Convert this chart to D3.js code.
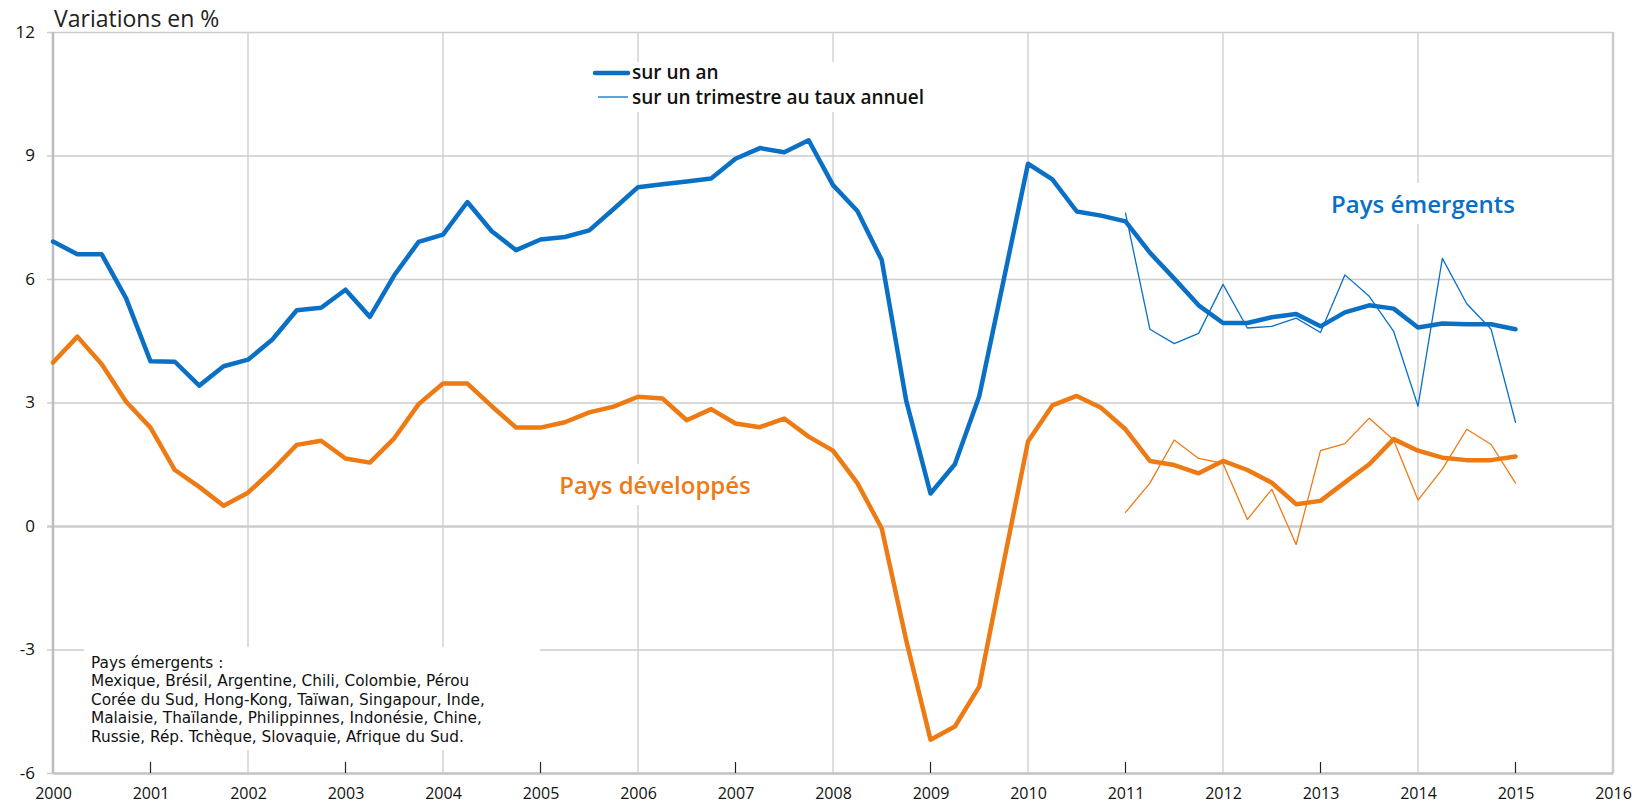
<!DOCTYPE html>
<html>
<head>
<meta charset="utf-8">
<script src="https://cdn.jsdelivr.net/npm/d3@7"></script>
<style>
  body { margin: 0; background: #fff; }
  text { font-family: "Open Sans", Lato, sans-serif; }
</style>
</head>
<body>
<div id="chart"></div>
<script>
// quarters 2000T1 .. 2015T1
var quarters = d3.range(0, 61).map(function(i) { return 2000 + i / 4; });

// Pays émergents, glissement sur un an
var emergAn = [
  6.91, 6.60, 6.60, 5.53,
  4.00, 3.99, 3.41, 3.88,
  4.04, 4.53, 5.24, 5.30,
  5.74, 5.08, 6.09, 6.90,
  7.08, 7.87, 7.16, 6.70,
  6.96, 7.02, 7.18, 7.70,
  8.23, 8.30, 8.37, 8.44,
  8.92, 9.18, 9.08, 9.37,
  8.28, 7.65, 6.46, 3.05,
  0.79, 1.50, 3.15, 5.97,
  8.80, 8.42, 7.64, 7.54,
  7.40, 6.64, 6.01, 5.36,
  4.93, 4.93, 5.07, 5.15,
  4.85, 5.19, 5.36, 5.28,
  4.82, 4.92, 4.90, 4.90,
  4.78
];

// Pays développés, glissement sur un an
var devAn = [
  3.97, 4.60, 3.93, 3.02,
  2.39, 1.36, 0.95, 0.49,
  0.81, 1.36, 1.97, 2.07,
  1.64, 1.54, 2.13, 2.96,
  3.46, 3.46, 2.91, 2.39,
  2.39, 2.52, 2.76, 2.90,
  3.14, 3.10, 2.57, 2.84,
  2.49, 2.40, 2.61, 2.17,
  1.83, 1.04, -0.06, -2.77,
  -5.19, -4.87, -3.90, -0.90,
  2.05, 2.93, 3.16, 2.87,
  2.35, 1.58, 1.48, 1.28,
  1.58, 1.36, 1.05, 0.53,
  0.61, 1.06, 1.50, 2.11,
  1.83, 1.66, 1.60, 1.60,
  1.69
];

// sur un trimestre au taux annuel, 2011T1 .. 2015T1
var quartersTri = d3.range(44, 61).map(function(i) { return 2000 + i / 4; });
var emergTri = [7.60, 4.78, 4.43, 4.68, 5.87, 4.81, 4.85, 5.05, 4.70, 6.10, 5.58, 4.73, 2.91, 6.50, 5.40, 4.78, 2.52];
var devTri = [0.33, 1.04, 2.09, 1.64, 1.52, 0.16, 0.89, -0.45, 1.83, 2.00, 2.62, 2.09, 0.63, 1.38, 2.35, 1.98, 1.04];

var yearTicks = d3.range(2000, 2017);
var yTicks = [-6, -3, 0, 3, 6, 9, 12];

var blue = "#0a70c6", orange = "#ee7a14", gridColor = "#cccccc";

var width = 1640, height = 807;
var margin = {top: 32, right: 27, bottom: 34, left: 53};

var svg = d3.select("#chart").append("svg")
  .attr("width", width)
  .attr("height", height);

var x = d3.scaleLinear().domain([2000, 2016]).range([margin.left, width - margin.right]);
var y = d3.scaleLinear().domain([-6, 12]).range([height - margin.bottom, margin.top]);
var plotW = x.range()[1] - x.range()[0];

// horizontal grid + y labels
svg.append("g")
  .attr("transform", `translate(${margin.left},0)`)
  .call(d3.axisLeft(y).tickValues(yTicks).tickFormat(d => String(d)).tickSize(0).tickPadding(18))
  .call(g => g.select(".domain").remove())
  .call(g => g.selectAll(".tick line")
      .attr("x1", -6)
      .attr("x2", plotW)
      .attr("stroke", gridColor)
      .attr("stroke-width", d => d === 0 ? 2.5 : 1.3))
  .call(g => g.selectAll(".tick text")
      .attr("fill", "#111")
      .style("font-size", "17px"));

// vertical grid on even years
svg.append("g")
  .selectAll("line")
  .data(yearTicks.filter(d => d % 2 === 0 && d > 2000))
  .join("line")
    .attr("x1", d => x(d)).attr("x2", d => x(d))
    .attr("y1", y(12)).attr("y2", y(-6))
    .attr("stroke", gridColor)
    .attr("stroke-width", d => d === 2016 ? 2.5 : 1.3);

// left axis line
svg.append("line")
  .attr("x1", x(2000)).attr("x2", x(2000))
  .attr("y1", y(12)).attr("y2", y(-6))
  .attr("stroke", "#bdbdbd").attr("stroke-width", 2.5);

// x axis
svg.append("g")
  .attr("transform", `translate(0,${y(-6)})`)
  .call(d3.axisBottom(x).tickValues(yearTicks).tickFormat(d3.format("d")).tickSize(0).tickPadding(15))
  .call(g => g.select(".domain").attr("stroke", "#c4c4c4").attr("stroke-width", 2.5))
  .call(g => g.selectAll(".tick text").attr("fill", "#111").style("font-size", "16px"));

// small inner ticks on odd years
svg.append("g")
  .selectAll("line")
  .data(yearTicks.filter(d => d % 2 === 1))
  .join("line")
    .attr("x1", d => x(d)).attr("x2", d => x(d))
    .attr("y1", y(-6) - 11).attr("y2", y(-6))
    .attr("stroke", "#222").attr("stroke-width", 1.2);

// note box
var note = svg.append("g");
note.append("rect")
  .attr("x", 84).attr("y", 647)
  .attr("width", 456).attr("height", 103)
  .attr("fill", "#fff");
var noteLines = [
  "Pays émergents :",
  "Mexique, Brésil, Argentine, Chili, Colombie, Pérou",
  "Corée du Sud, Hong-Kong, Taïwan, Singapour, Inde,",
  "Malaisie, Thaïlande, Philippinnes, Indonésie, Chine,",
  "Russie, Rép. Tchèque, Slovaquie, Afrique du Sud."
];
note.selectAll("text")
  .data(noteLines)
  .join("text")
    .attr("x", 91)
    .attr("y", (d, i) => 668 + i * 18.4)
    .attr("fill", "#111")
    .style("font-family", "'DejaVu Sans', sans-serif")
    .style("font-size", "15.3px")
    .text(d => d);

// lines
var line = d3.line().x(d => x(d[0])).y(d => y(d[1]));

function drawLine(xs, ys, color, w) {
  svg.append("path")
    .datum(d3.zip(xs, ys))
    .attr("fill", "none")
    .attr("stroke", color)
    .attr("stroke-width", w)
    .attr("stroke-linejoin", "round")
    .attr("stroke-linecap", "round")
    .attr("d", line);
}

// text with white backing
function label(tx, ty, str, color, size, weight, anchor) {
  var g = svg.append("g");
  var t = g.append("text")
    .attr("x", tx).attr("y", ty)
    .attr("fill", color)
    .attr("text-anchor", anchor || "start")
    .style("font-size", size + "px")
    .style("font-weight", weight)
    .text(str);
  var b = t.node().getBBox();
  g.insert("rect", "text")
    .attr("x", b.x - 6).attr("y", b.y - 4)
    .attr("width", b.width + 12).attr("height", b.height + 8)
    .attr("fill", "#fff");
  return g;
}

// legend
var leg = svg.append("g");
leg.append("rect").attr("x", 590).attr("y", 62).attr("width", 345).attr("height", 50).attr("fill", "#fff");
leg.append("line").attr("x1", 595).attr("x2", 628).attr("y1", 73).attr("y2", 73)
  .attr("stroke", blue).attr("stroke-width", 4.5).attr("stroke-linecap", "round");
leg.append("line").attr("x1", 598).attr("x2", 628).attr("y1", 97).attr("y2", 97)
  .attr("stroke", blue).attr("stroke-width", 1.3);
leg.append("text").attr("x", 632).attr("y", 79).attr("fill", "#111")
  .style("font-size", "19px").style("font-weight", "600").text("sur un an");
leg.append("text").attr("x", 632).attr("y", 104).attr("fill", "#111")
  .style("font-size", "19px").style("font-weight", "600").text("sur un trimestre au taux annuel");

label(1423, 213, "Pays émergents", blue, 24, "600", "middle");
label(655, 494, "Pays développés", orange, 24, "600", "middle");

drawLine(quartersTri, emergTri, blue, 1.3);
drawLine(quartersTri, devTri, orange, 1.3);
drawLine(quarters, emergAn, blue, 4.5);
drawLine(quarters, devAn, orange, 4.5);

// title
svg.append("text")
  .attr("x", 54).attr("y", 27)
  .attr("fill", "#222")
  .style("font-size", "23px")
  .text("Variations en %");
</script>
</body>
</html>
